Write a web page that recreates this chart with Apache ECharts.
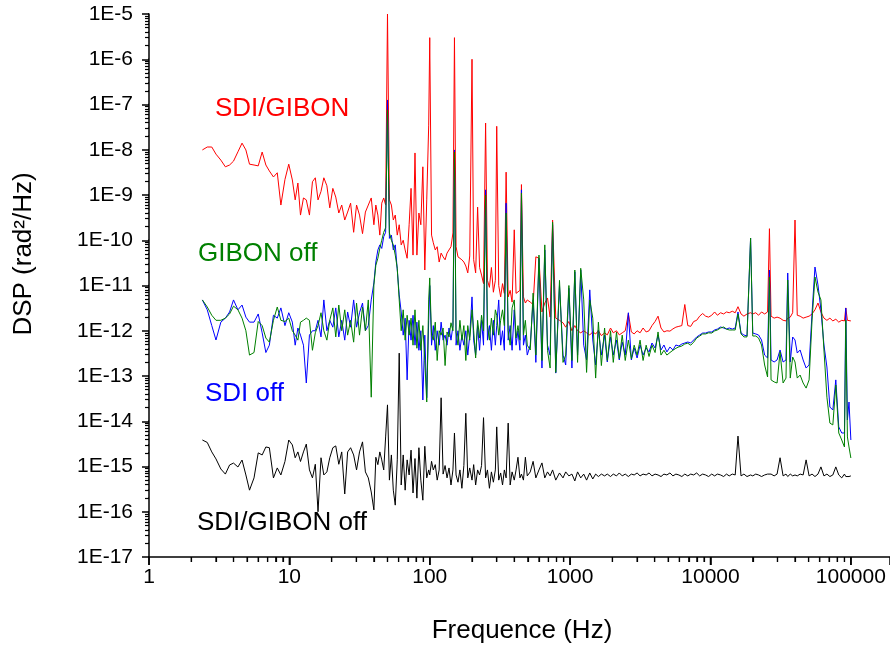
<!DOCTYPE html>
<html><head><meta charset="utf-8">
<script src="https://cdn.jsdelivr.net/npm/echarts@6/dist/echarts.min.js"></script>
<style>html,body{margin:0;padding:0;background:#fff}#c{width:890px;height:650px}</style>
</head><body><div id="c"></div>
<script>
// Frequencies (Hz)
const freq = [
 2.4,2.6,2.8,3.0,3.25,3.5,3.75,4.0,4.3,4.6,4.9,5.2,5.6,6.0,6.4,6.8,7.2,7.7,8.2,8.7,9.3,9.9,
 10.5,11,11.5,12,12.6,13.2,13.9,14.6,15.3,16,16.8,17.6,18.5,19.4,20.4,21.4,22.5,23.6,24.8,26,27.3,28.7,30.1,31.6,33.2,34.8,36.5,38.3,
 40,41.3,42.7,44.1,45.5,47,48.5,50,51.6,53.3,55,56.8,58.7,60.6,62.6,64.7,66.8,69,71.3,73.6,76,78.5,81,83.7,86.4,89.3,92.2,95.2,98.3,100,
 103,106,109.5,113,116.7,120.5,124.5,128.6,132.8,137.2,141.7,146.3,150,154,158.9,164,169.4,175,180.7,186.6,192.7,200,205.5,212.3,219.3,226.5,233.9,241.6,
 250,257.7,266.2,275,284,293.3,300,310,320,330,340,350,362,374,386,400,412,425,439,450,465,480,495,
 520,545,570,600,630,660,690,720,750,790,840,890,930,980,1030,1080,1130,1190,1250,1310,1380,1450,1520,1590,1670,1760,1840,1940,2030,2140,
 2240,2350,2470,2600,2730,2860,3000,3150,3310,3480,3650,3830,4030,4230,4440,4660,4890,5140,5400,5670,5950,6250,6560,6890,7230,7590,7970,8370,8790,9230,9690,
 10200,10700,11200,11800,12400,13000,13600,14300,15000,15700,16500,17300,18200,19300,20000,21000,22000,23100,24300,25500,
 26300,27000,28400,29800,31300,32900,34500,35500,37000,38500,40000,41500,43500,45700,48000,50400,52900,55500,58300,61200,
 64300,67500,70900,74400,78100,82000,86100,90000,92000,94500,97000,100000
];
// SDI/GIBON (red)
const sdiGibon = [
 9.9e-9,1.15e-8,1.15e-8,8.0e-9,5.9e-9,4.2e-9,4.6e-9,5.6e-9,9.0e-9,1.4e-8,9.9e-9,4.8e-9,4.6e-9,4.4e-9,8.9e-9,4.6e-9,3.4e-9,2.5e-9,3.1e-9,6.0e-10,2.2e-9,4.8e-9,
 2.15e-9,7.8e-10,1.84e-9,3.6e-10,8.6e-10,7.8e-10,3.6e-10,1.96e-9,2.4e-9,7.8e-10,1.2e-9,2.4e-9,1.6e-9,5.2e-10,1.4e-9,9.0e-10,4.0e-10,6.0e-10,2.8e-10,4.2e-10,6.6e-10,1.5e-10,6.0e-10,3.6e-10,1.4e-10,4.2e-10,6.0e-10,8.6e-10,
 2.2e-10,6.0e-10,3.6e-10,1.3e-10,6.6e-10,8.6e-10,6.0e-10,1.0e-5,7.8e-10,6.0e-10,2.8e-10,3.6e-10,1.3e-10,2.2e-10,7.9e-11,1.0e-10,6.1e-11,4.0e-11,2.2e-10,1.4e-9,4.7e-11,8.5e-9,4.7e-11,4.0e-10,2.2e-10,4.2e-9,2.2e-11,7.8e-10,3.5e-8,3.0e-6,
 1.3e-10,8.8e-11,6.1e-11,7.2e-11,3.3e-11,5.2e-11,4.3e-11,3.7e-11,5.2e-11,4.7e-11,7.2e-11,1.45e-10,3.0e-6,7.2e-11,4.3e-11,4.0e-11,3.7e-11,3.3e-11,2.7e-11,1.9e-11,4.5e-11,1.0e-6,3.7e-11,1.9e-11,5.4e-10,2.5e-11,1.7e-11,1.1e-11,
 3.9e-8,1.3e-11,9.1e-12,2.5e-11,7.1e-12,1.3e-11,3.3e-8,1.0e-11,5.6e-12,1.1e-11,6.7e-12,3.2e-9,5.6e-12,7.8e-12,4.3e-12,1.7e-10,6.7e-12,6.1e-12,7.8e-12,1.7e-9,5.6e-12,4.1e-12,4.8e-12,
 4.3e-12,3.8e-12,4.3e-11,4.0e-11,2.6e-12,4.1e-12,5.3e-12,2.0e-12,2.8e-10,1.9e-12,1.7e-12,1.5e-12,1.2e-12,1.6e-12,1.0e-12,1.3e-12,1.0e-12,9.0e-13,1.0e-12,9.0e-13,8.1e-13,9.4e-13,8.5e-13,1.0e-12,7.8e-13,9.0e-13,8.1e-13,1.15e-12,9.0e-13,1.0e-12,
 8.1e-13,9.0e-13,1.0e-12,2.4e-12,9.4e-13,8.5e-13,1.0e-12,9.0e-13,1.15e-12,9.4e-13,1.0e-12,1.3e-12,1.6e-12,2.1e-12,1.15e-12,9.4e-13,1.0e-12,9.8e-13,1.1e-12,1.2e-12,1.25e-12,1.3e-12,3.8e-12,1.3e-12,1.25e-12,1.6e-12,1.7e-12,2.1e-12,2.4e-12,2.1e-12,2.0e-12,
 2.2e-12,2.6e-12,2.2e-12,2.5e-12,2.35e-12,2.6e-12,2.5e-12,2.7e-12,2.5e-12,3.4e-12,2.35e-12,2.1e-12,2.35e-12,2.5e-12,2.35e-12,2.5e-12,2.2e-12,2.6e-12,2.35e-12,2.6e-12,
 1.8e-10,2.1e-12,1.9e-12,2.0e-12,1.9e-12,1.7e-12,1.65e-12,1.9e-12,2.0e-12,2.5e-12,2.8e-10,2.2e-12,2.1e-12,1.9e-12,2.0e-12,2.1e-12,2.35e-12,2.9e-12,4.1e-12,2.6e-12,
 1.9e-12,1.7e-12,1.9e-12,1.65e-12,1.8e-12,1.55e-12,1.7e-12,1.65e-12,3.2e-12,1.7e-12,1.55e-12,1.65e-12
];
// GIBON off (green)
const gibonOff = [
 4.8e-12,3.35e-12,2.2e-12,1.7e-12,1.7e-12,1.9e-12,2.35e-12,3.5e-12,2.9e-12,1.9e-12,1.0e-12,2.9e-13,3.3e-13,1.6e-12,1.3e-12,6.9e-13,5.6e-13,1.7e-12,3.35e-12,1.7e-12,1.6e-12,1.9e-12,
 1.0e-12,8.0e-13,6.2e-13,1.55e-12,1.7e-12,1.9e-12,1.7e-12,3.7e-13,9.0e-13,1.3e-12,2.5e-12,1.0e-12,6.2e-13,1.7e-12,3.2e-12,7.3e-13,3.7e-12,1.0e-12,2.9e-12,8.0e-13,1.7e-12,5.6e-13,4.1e-12,8.0e-13,3.35e-12,1.0e-12,4.8e-12,3.4e-14,
 1.03e-11,2.8e-11,4.0e-11,6.7e-11,1.0e-10,1.5e-10,1.9e-10,7.6e-8,1.45e-10,1.0e-10,7.9e-11,4.7e-11,2.4e-11,4.8e-12,1.0e-12,2.9e-12,6.2e-13,2.2e-12,8.0e-13,1.9e-12,4.8e-13,2.9e-12,4.1e-13,1.7e-12,3.7e-13,1.3e-12,2.2e-13,2.66e-14,4.8e-12,1.47e-11,
 8.0e-13,6.2e-13,1.55e-12,2.2e-13,1.0e-12,8.0e-13,1.15e-12,1.7e-13,9.4e-13,7.3e-13,1.5e-12,1.0e-12,8.9e-9,9.4e-13,4.8e-13,1.7e-12,6.2e-13,1.3e-12,2.2e-13,1.3e-12,6.2e-13,2.9e-12,1.0e-12,2.5e-13,1.7e-12,6.9e-13,2.2e-12,1.0e-12,
 1.0e-9,1.3e-12,6.2e-13,1.9e-12,8.0e-13,2.9e-12,2.2e-12,8.0e-13,1.7e-12,2.9e-12,1.3e-12,4.0e-10,1.0e-12,4.8e-13,3.2e-12,4.8e-12,6.9e-13,1.3e-12,6.2e-13,1.1e-9,8.0e-13,1.7e-12,4.8e-13,
 3.76e-13,6.8e-12,2.9e-13,4.7e-11,2.2e-13,7.9e-11,3.7e-13,1.5e-13,2.5e-10,1.2e-13,1.3e-11,2.0e-13,2.9e-13,1.0e-11,2.2e-13,2.2e-11,2.0e-13,2.4e-11,4.8e-12,1.2e-13,4.8e-12,1.9e-12,9.0e-14,1.55e-12,1.7e-13,1.15e-12,2.2e-13,1.0e-12,2.0e-13,9.4e-13,
 2.4e-13,8.0e-13,2.2e-13,6.2e-13,2.4e-13,4.8e-13,2.9e-13,6.2e-13,2.2e-13,4.8e-13,2.7e-13,4.8e-13,3.3e-13,9.4e-13,2.9e-13,3.7e-13,2.9e-13,3.3e-13,3.7e-13,4.1e-13,4.4e-13,4.6e-13,5.1e-13,5.3e-13,4.8e-13,5.6e-13,6.9e-13,7.6e-13,8.5e-13,8.5e-13,9.0e-13,
 8.9e-13,9.9e-13,1.04e-12,1.15e-12,1.21e-12,1.09e-12,1.04e-12,1.04e-12,1.04e-12,2.35e-12,8.5e-13,7.3e-13,7.3e-13,1.12e-10,7.65e-13,7.65e-13,6.9e-13,4.84e-13,1.75e-13,9.5e-14,
 1.54e-11,8.2e-14,7.4e-14,7.0e-14,3.4e-13,7.0e-14,9.0e-14,1.32e-11,9.0e-14,2.63e-13,2.04e-13,9.0e-14,1.05e-13,7.0e-14,5.4e-14,8.2e-14,1.73e-12,1.54e-11,7.2e-12,4.8e-12,
 3.76e-13,3.4e-14,9.1e-15,8.3e-15,6.3e-14,5.5e-15,3.85e-15,2.7e-15,1.73e-12,4.5e-15,2.7e-15,1.54e-15
];
// SDI off (blue)
const sdiOff = [
 4.8e-12,2.9e-12,1.3e-12,6.25e-13,1.55e-12,1.9e-12,2.6e-12,4.8e-12,2.9e-12,3.7e-12,2.0e-12,1.55e-12,1.55e-12,2.35e-12,9.0e-13,3.3e-13,4.8e-13,2.2e-12,1.9e-12,3.2e-12,1.3e-12,2.5e-12,
 1.55e-12,4.8e-13,1.15e-12,8.0e-13,4.8e-13,7.0e-14,8.0e-13,1.0e-12,1.0e-12,1.7e-12,7.3e-13,4.8e-12,1.0e-12,1.7e-12,1.2e-12,3.2e-12,7.3e-13,1.7e-12,6.2e-13,2.6e-12,1.2e-12,4.8e-12,1.2e-12,2.5e-12,4.1e-12,1.0e-12,1.3e-12,4.8e-12,
 1.14e-11,3.3e-11,6.1e-11,7.9e-11,6.6e-11,1.2e-10,1.5e-10,1.26e-7,1.1e-10,1.3e-10,6.1e-11,7.9e-11,2.2e-11,6.2e-12,2.6e-12,8.0e-13,1.9e-12,8.2e-14,1.7e-12,6.2e-13,2.2e-12,4.8e-13,1.55e-12,3.7e-13,1.0e-12,2.95e-14,8.0e-13,3.3e-14,1.7e-12,1.0e-11,
 4.8e-13,1.3e-12,3.7e-13,1.0e-12,4.8e-13,1.55e-12,6.2e-13,8.0e-13,4.8e-13,1.15e-12,6.2e-13,1.3e-12,9.9e-9,4.8e-13,1.0e-12,3.7e-13,8.0e-13,4.8e-13,1.0e-12,2.9e-13,8.0e-13,5.6e-12,6.2e-13,2.9e-13,1.3e-12,3.7e-13,1.7e-12,4.8e-13,
 1.3e-9,6.2e-13,1.3e-12,3.7e-13,1.7e-12,4.8e-13,1.3e-12,4.8e-12,4.8e-13,1.0e-12,3.7e-13,6.6e-10,6.2e-13,1.3e-12,3.7e-13,2.9e-12,4.8e-13,1.0e-12,3.7e-13,1.3e-9,4.8e-13,8.0e-13,2.9e-13,
 4.84e-13,4.8e-12,2.0e-13,4.0e-11,1.5e-13,6.1e-11,4.8e-13,2.9e-13,2.2e-10,1.16e-13,1.0e-11,2.9e-13,1.75e-13,8.7e-12,1.5e-13,2.0e-11,2.9e-13,2.2e-11,4.8e-13,2.26e-13,8.0e-12,6.25e-13,1.75e-13,1.04e-12,2.9e-13,8.0e-13,2.04e-13,7.3e-13,2.9e-13,6.25e-13,
 2.26e-13,5.6e-13,2.9e-13,2.5e-12,2.26e-13,4.15e-13,2.5e-13,4.84e-13,2.9e-13,4.15e-13,3.4e-13,5.36e-13,4.15e-13,8.0e-13,3.76e-13,4.84e-13,3.4e-13,4.37e-13,3.76e-13,4.84e-13,4.6e-13,5.09e-13,5.36e-13,5.64e-13,5.36e-13,6.25e-13,7.27e-13,8.05e-13,8.9e-13,8.9e-13,9.4e-13,
 9.4e-13,1.04e-12,1.09e-12,1.21e-12,1.15e-12,1.09e-12,1.15e-12,1.09e-12,1.15e-12,2.6e-12,8.9e-13,8.05e-13,7.65e-13,1.12e-10,8.9e-13,8.5e-13,8.05e-13,6.25e-13,2.9e-13,2.5e-13,
 2.2e-11,2.26e-13,2.04e-13,2.26e-13,3.76e-13,2.04e-13,2.26e-13,1.89e-11,2.04e-13,7.27e-13,6.25e-13,3.22e-13,3.76e-13,2.26e-13,1.5e-13,1.75e-13,2.47e-12,2.56e-11,1.03e-11,2.88e-12,
 4.84e-13,1.58e-13,2.06e-14,1.77e-14,8.2e-14,7.5e-15,5.5e-15,5.5e-15,3.18e-12,1.07e-14,2.66e-14,3.85e-15
];
// SDI/GIBON off (black)
const allOff = [
 3.85e-15,3.4e-15,2.1e-15,1.47e-15,8.8e-16,6.8e-16,1.08e-15,1.19e-15,9.75e-16,1.39e-15,6.5e-16,3.0e-16,5.6e-16,2.0e-15,1.8e-15,2.7e-15,2.6e-15,5.6e-16,9.3e-16,6.5e-16,1.29e-15,3.85e-15,
 3.0e-15,1.56e-15,2.1e-15,1.29e-15,2.1e-15,3.13e-15,8.4e-16,5.6e-16,1.12e-15,1.0e-16,1.56e-15,6.5e-16,7.6e-16,1.56e-15,2.6e-15,2.85e-15,1.12e-15,2.1e-15,2.47e-16,2.1e-15,2.6e-15,1.8e-15,8.4e-16,2.1e-15,3.5e-15,7.6e-16,5.6e-16,2.73e-16,
 1.1e-16,1.6e-15,1.1e-15,2.1e-15,1.4e-15,8.4e-16,4.5e-15,2.3e-14,5.0e-16,1.8e-15,3.0e-16,1.4e-16,1.4e-15,3.2e-13,3.9e-16,1.8e-15,3.0e-16,1.4e-15,6.5e-16,2.3e-15,2.6e-16,1.5e-15,2.0e-16,2.6e-15,5.0e-16,1.8e-16,2.8e-15,5.6e-16,8.4e-16,6.5e-16,
 1.3e-15,8.4e-16,1.1e-15,5.0e-16,8.4e-16,3.3e-14,6.8e-16,1.05e-15,5.6e-16,9.3e-16,3.9e-16,8.4e-16,5.5e-15,6.5e-16,4.5e-16,8.4e-16,3.3e-16,1.05e-15,1.5e-14,5.6e-16,9.3e-16,5.0e-16,1.1e-15,3.9e-16,8.4e-16,6.5e-16,1.05e-15,1.2e-14,
 5.6e-16,8.4e-16,3.3e-16,7.6e-16,4.5e-16,8.4e-16,7.5e-15,5.0e-16,7.2e-16,3.9e-16,8.4e-16,5.6e-16,9.1e-15,3.9e-16,7.6e-16,5.0e-16,8.4e-16,1.6e-15,5.6e-16,6.8e-16,5.0e-16,1.6e-15,6.2e-16,
 7.6e-16,1.3e-15,5.6e-16,8.4e-16,1.2e-15,5.6e-16,7.6e-16,6.2e-16,8.4e-16,5.0e-16,7.2e-16,5.6e-16,7.6e-16,6.2e-16,6.8e-16,4.8e-16,7.6e-16,5.6e-16,6.8e-16,5.0e-16,7.2e-16,5.3e-16,6.8e-16,6.0e-16,6.8e-16,6.2e-16,6.8e-16,6.0e-16,6.8e-16,6.2e-16,
 7.2e-16,6.2e-16,6.8e-16,6.0e-16,6.8e-16,6.5e-16,7.2e-16,6.2e-16,6.8e-16,6.5e-16,7.2e-16,6.2e-16,6.8e-16,6.5e-16,6.0e-16,6.8e-16,6.5e-16,7.2e-16,6.2e-16,6.8e-16,6.5e-16,6.0e-16,6.8e-16,6.2e-16,6.8e-16,6.5e-16,7.2e-16,6.2e-16,6.8e-16,6.5e-16,6.0e-16,
 6.8e-16,6.2e-16,6.8e-16,6.5e-16,6.0e-16,6.8e-16,6.2e-16,6.8e-16,6.5e-16,4.7e-15,6.2e-16,6.8e-16,6.0e-16,6.5e-16,6.2e-16,6.8e-16,6.5e-16,6.0e-16,6.5e-16,6.8e-16,
 6.2e-16,6.8e-16,6.2e-16,6.8e-16,1.56e-15,6.2e-16,6.8e-16,6.0e-16,6.8e-16,6.2e-16,6.5e-16,6.2e-16,6.8e-16,6.5e-16,1.4e-15,6.2e-16,6.8e-16,6.0e-16,6.8e-16,9.8e-16,
 6.2e-16,6.8e-16,6.0e-16,6.5e-16,9.8e-16,6.5e-16,5.6e-16,6.8e-16,6.0e-16,6.5e-16,6.0e-16,6.2e-16
];
const xTickLabels = ['1','10','100','1000','10000','100000'];
const yTickLabels = ['1E-17','1E-16','1E-15','1E-14','1E-13','1E-12','1E-11','1E-10','1E-9','1E-8','1E-7','1E-6','1E-5'];
const seriesNames = ['SDI/GIBON','GIBON off','SDI off','SDI/GIBON off'];
const seriesColors = ['#ff0000','#008000','#0000ff','#000000'];

const FONT = '"Liberation Sans", Arial, sans-serif';
const X_MIN = 1, X_MAX = 190000, Y_MIN = 1e-17, Y_MAX = 1e-5;
// tick-mark end values just outside the axes (log axes: a fixed ratio = fixed pixel length)
const X_TICK_MAJOR_END = 6.66e-18, X_TICK_MINOR_END = 7.75e-18; // below y = 1E-17
const Y_TICK_MAJOR_END = 0.8915, Y_TICK_MINOR_END = 0.9365;       // left of x = 1

function pairs(arr) { return freq.map((f, i) => [f, arr[i]]); }

function lineSeries(name, arr, color) {
  return {
    name: name, type: 'line', data: pairs(arr), showSymbol: false, symbol: 'none',
    lineStyle: { color: color, width: 1 }, itemStyle: { color: color }, silent: true
  };
}

// Axis tick segments (separated by gaps) drawn through the same log scales
const majorTicks = [], minorTicks = [];
for (let k = 0; k <= 5; k++) {
  const d = Math.pow(10, k);
  majorTicks.push([d, Y_MIN], [d, X_TICK_MAJOR_END], [d, '-']);
  for (let m = 2; m <= 9; m++) {
    if (d * m >= X_MAX) continue;
    minorTicks.push([d * m, Y_MIN], [d * m, X_TICK_MINOR_END], [d * m, '-']);
  }
}
for (let e = -17; e <= -5; e++) {
  const v = Math.pow(10, e);
  majorTicks.push([X_MIN, v], [Y_TICK_MAJOR_END, v], ['-', v]);
  if (e === -5) continue;
  for (let m = 2; m <= 9; m++) {
    minorTicks.push([X_MIN, m * v], [Y_TICK_MINOR_END, m * v], ['-', m * v]);
  }
}
function tickSeries(data, width) {
  return {
    type: 'line', data: data, showSymbol: false, symbol: 'none', clip: false, connectNulls: false,
    silent: true, z: 10, lineStyle: { color: '#000', width: width }, itemStyle: { color: '#000' }
  };
}

const chart = echarts.init(document.getElementById('c'), null, { renderer: 'canvas' });
chart.setOption({
  animation: false,
  backgroundColor: '#fff',
  grid: { left: 149, right: 0, top: 14, bottom: 93 },
  xAxis: {
    type: 'log', min: X_MIN, max: X_MAX, interval: 1,
    axisLine: { show: true, onZero: false, lineStyle: { color: '#000', width: 1.5 } },
    axisTick: { show: true, inside: false, length: 8, lineStyle: { color: '#000', width: 1.5 } },
    minorTick: { show: true, splitNumber: 9, length: 5, lineStyle: { color: '#000', width: 1.2 } },
    axisLabel: {
      color: '#000', fontSize: 21, fontFamily: FONT, margin: 10, showMaxLabel: false,
      formatter: function (v) { const k = Math.round(Math.log10(v)); return xTickLabels[k] !== undefined ? xTickLabels[k] : ''; }
    },
    splitLine: { show: false }
  },
  yAxis: {
    type: 'log', min: Y_MIN, max: Y_MAX, interval: 1,
    axisLine: { show: true, onZero: false, lineStyle: { color: '#000', width: 1.5 } },
    axisTick: { show: true, inside: false, length: 7, lineStyle: { color: '#000', width: 1.5 } },
    minorTick: { show: true, splitNumber: 9, length: 4, lineStyle: { color: '#000', width: 1.2 } },
    axisLabel: {
      color: '#000', fontSize: 21, fontFamily: FONT, margin: 16, interval: 0,
      formatter: function (v) { const k = Math.round(Math.log10(v)) + 17; return yTickLabels[k] !== undefined ? yTickLabels[k] : ''; }
    },
    splitLine: { show: false }
  },
  series: [
    lineSeries(seriesNames[3], allOff, seriesColors[3]),
    lineSeries(seriesNames[0], sdiGibon, seriesColors[0]),
    lineSeries(seriesNames[2], sdiOff, seriesColors[2]),
    lineSeries(seriesNames[1], gibonOff, seriesColors[1]),
    tickSeries(majorTicks, 1.5),
    tickSeries(minorTicks, 1.2)
  ],
  graphic: [
    { type: 'text', x: 215, y: 109, silent: true, style: { text: seriesNames[0], fill: seriesColors[0], font: '26px ' + FONT, verticalAlign: 'middle' } },
    { type: 'text', x: 198, y: 254, silent: true, style: { text: seriesNames[1], fill: seriesColors[1], font: '26px ' + FONT, verticalAlign: 'middle' } },
    { type: 'text', x: 205, y: 394, silent: true, style: { text: seriesNames[2], fill: seriesColors[2], font: '26px ' + FONT, verticalAlign: 'middle' } },
    { type: 'text', x: 197, y: 523, silent: true, style: { text: seriesNames[3], fill: seriesColors[3], font: '26px ' + FONT, verticalAlign: 'middle' } },
    { type: 'text', x: 522, y: 631, silent: true, style: { text: 'Frequence (Hz)', fill: '#000', font: '26px ' + FONT, align: 'center', verticalAlign: 'middle' } },
    { type: 'text', x: 24, y: 254, rotation: Math.PI / 2, silent: true, style: { text: 'DSP (rad²/Hz)', fill: '#000', font: '26px ' + FONT, align: 'center', verticalAlign: 'middle' } }
  ]
});
</script></body></html>
